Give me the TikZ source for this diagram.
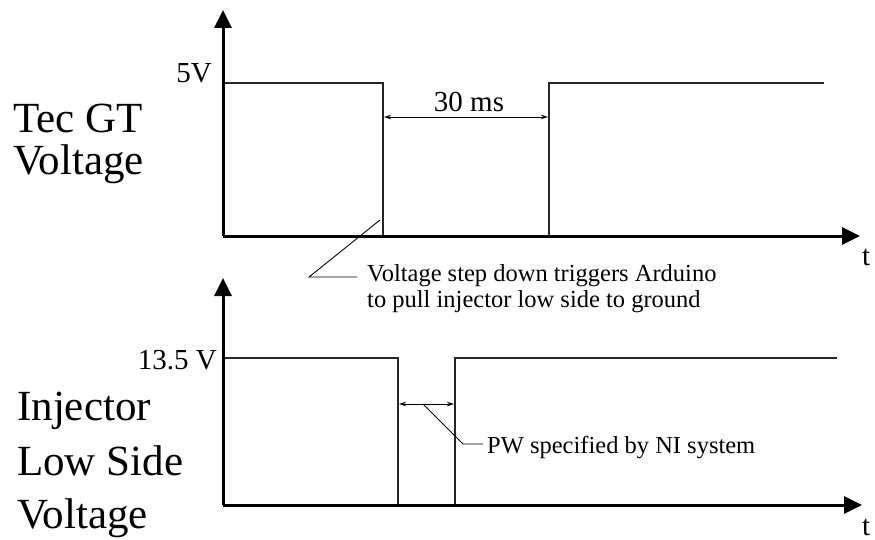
\documentclass[tikz,border=0pt]{standalone}
\usepackage{fontspec}
\setmainfont{Liberation Serif}
\usetikzlibrary{arrows.meta}
\begin{document}
\begin{tikzpicture}[x=1pt,y=-1pt,
  axis/.style={line width=3pt,-{Triangle[width=17pt,length=18pt]}},
  signal/.style={line width=1.4pt,black!85},
  dim/.style={line width=0.9pt,{Stealth[length=7pt,width=4.5pt]}-{Stealth[length=7pt,width=4.5pt]}},
  leader/.style={line width=0.9pt},
  big/.style={font=\fontsize{43}{50}\selectfont,inner sep=0pt},
  mid/.style={font=\fontsize{29}{34}\selectfont,inner sep=0pt},
  small/.style={font=\fontsize{24.5}{29}\selectfont,inner sep=0pt}]
\useasboundingbox (0,0) rectangle (875,540);
% ---- top graph ----
\coordinate (o1) at (223,236);
\coordinate (y1) at (223,10);
\coordinate (x1) at (860,236);
\draw[signal] (223,83) -- (383,83) -- (383,236) -- (549,236) -- (549,83) -- (824,83);
\draw[axis] (o1) -- (y1);
\draw[axis] (o1) -- (x1);
\coordinate (d1a) at (384,117);
\coordinate (d1b) at (548,117);
\draw[dim] (d1a) -- (d1b);
\node[mid,anchor=base] (ms) at (469,112) {30 ms};
\node[mid,anchor=base east] (v5) at (212,83) {5V};
\node[mid,anchor=base west] (t1) at (862,265) {t};
\node[big,anchor=base west] (tec1) at (13,133) {Tec GT};
\node[big,anchor=base west] (tec2) at (13,175) {Voltage};
% annotation
\coordinate (a1) at (380,220);
\coordinate (a2) at (309,277);
\coordinate (a3) at (357,277);
\draw[leader] (a1) -- (a2) -- (a3);
\node[small,anchor=base west] (ann1) at (367,281) {Voltage step down triggers Arduino};
\node[small,anchor=base west] (ann2) at (367,307) {to pull injector low side to ground};
% ---- bottom graph ----
\coordinate (o2) at (223,505);
\coordinate (y2) at (223,278);
\coordinate (x2) at (862,505);
\draw[signal] (223,358) -- (398,358) -- (398,505) -- (455,505) -- (455,358) -- (837,358);
\draw[axis] (o2) -- (y2);
\draw[axis] (o2) -- (x2);
\coordinate (d2a) at (399,404);
\coordinate (d2b) at (454,404);
\draw[dim] (d2a) -- (d2b);
\coordinate (p1) at (423,404);
\coordinate (p2) at (463,444);
\coordinate (p3) at (483,444);
\draw[leader] (p1) -- (p2) -- (p3);
\node[small,anchor=base west] (pw) at (487,453) {PW specified by NI system};
\node[mid,anchor=base east] (v135) at (217,369) {13.5 V};
\node[mid,anchor=base west] (t2) at (862,535) {t};
\node[big,anchor=base west] (inj1) at (17,420) {Injector};
\node[big,anchor=base west] (inj2) at (17,475) {Low Side};
\node[big,anchor=base west] (inj3) at (17,528) {Voltage};
\end{tikzpicture}
\end{document}
